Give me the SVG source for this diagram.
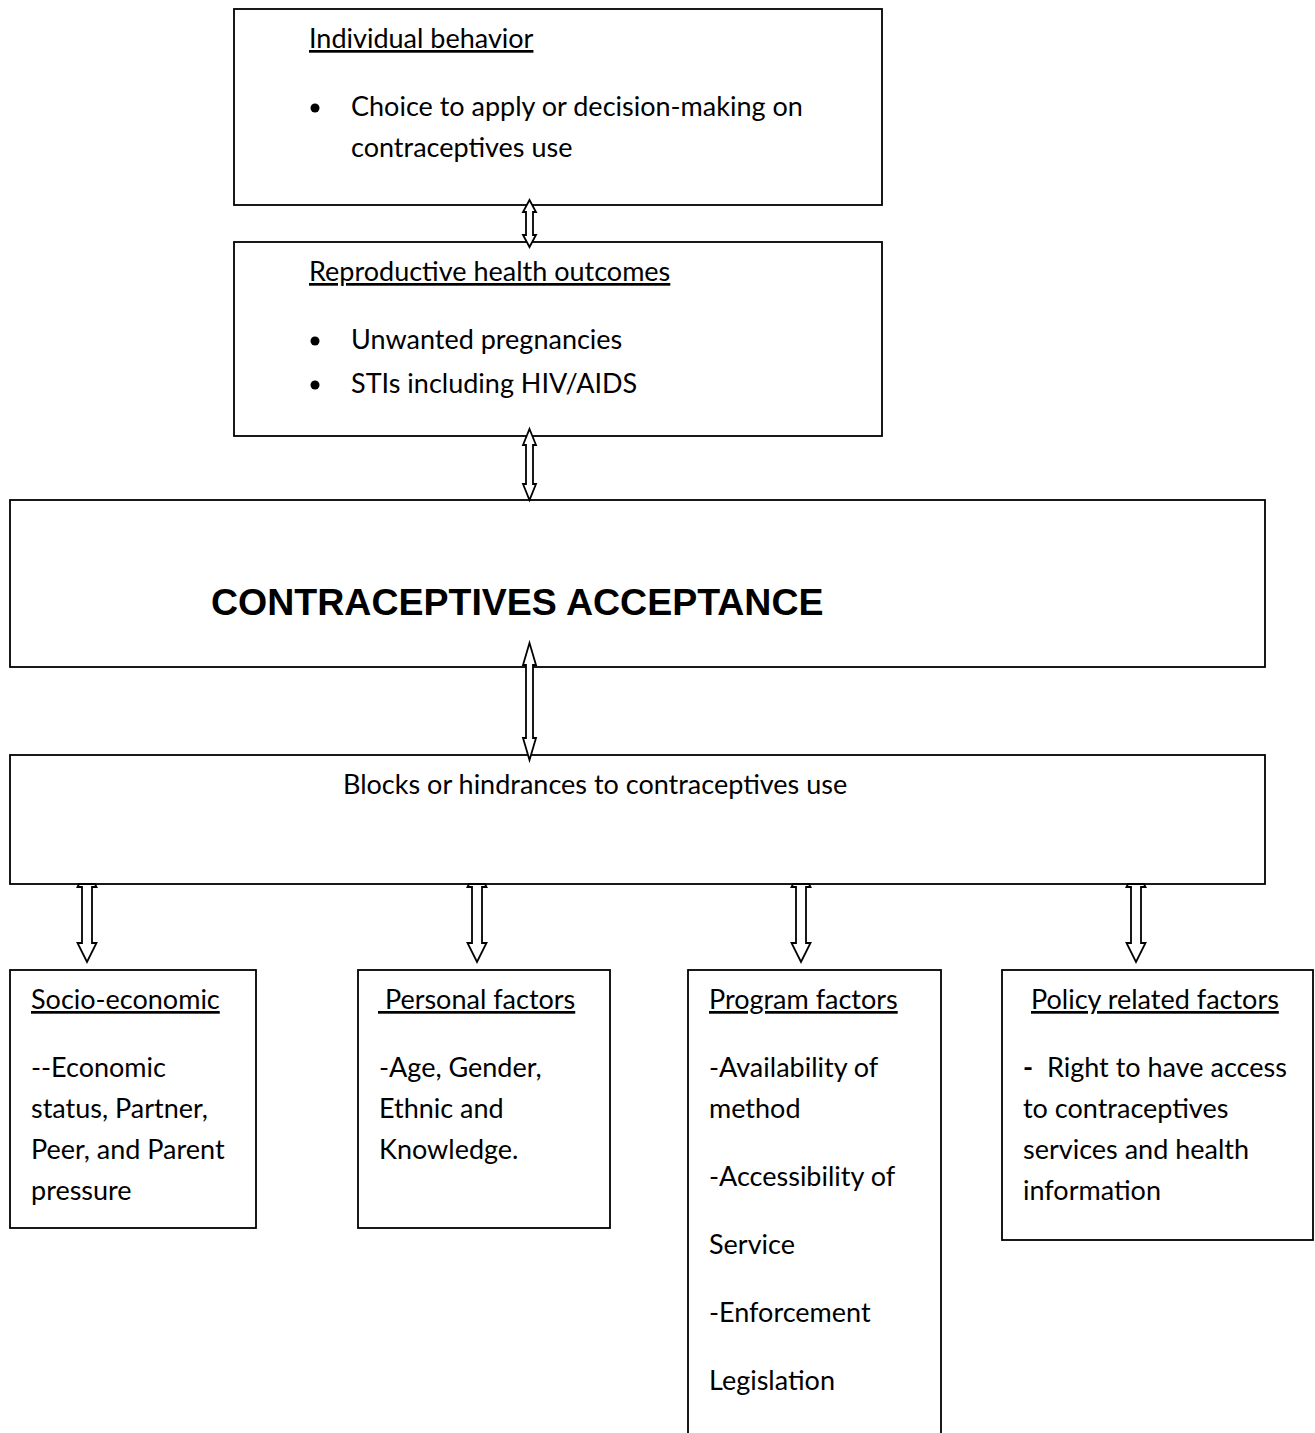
<svg xmlns="http://www.w3.org/2000/svg" width="1315" height="1433" viewBox="0 0 1315 1433">
<style>
.box{fill:#fff;stroke:#000;stroke-width:1.8}
.t{font-family:Lato,"Liberation Sans",sans-serif;font-size:27px;fill:#000;white-space:pre}
.u{text-decoration:underline}
.big{font-family:"Liberation Sans",Arial,sans-serif;font-size:37.5px;font-weight:bold;fill:#000}
.arr{fill:#fff;stroke:#000;stroke-width:1.8;stroke-linejoin:miter}
</style>
<rect width="1315" height="1433" fill="#fff"/>
<g id="individual-behavior">
<rect class="box" x="234" y="9" width="648" height="196"/>
<text class="t u" x="309" y="48">Individual behavior</text>
<circle cx="315" cy="108" r="4.5"/>
<text class="t" x="351" y="116">Choice to apply or decision-making on</text>
<text class="t" x="351" y="157">contraceptives use</text>
</g>
<g id="reproductive-health">
<rect class="box" x="234" y="242" width="648" height="194"/>
<text class="t u" x="309" y="281">Reproductive health outcomes</text>
<circle cx="315" cy="341" r="4.5"/>
<text class="t" x="351" y="349">Unwanted pregnancies</text>
<circle cx="315" cy="385" r="4.5"/>
<text class="t" x="351" y="393">STIs including HIV/AIDS</text>
</g>
<g id="contraceptives-acceptance">
<rect class="box" x="10" y="500" width="1255" height="167"/>
<text class="big" x="211" y="615">CONTRACEPTIVES ACCEPTANCE</text>
</g>
<g id="blocks">
<rect class="box" x="10" y="755" width="1255" height="129"/>
<text class="t" x="343" y="794">Blocks or hindrances to contraceptives use</text>
</g>
<g id="socio-economic">
<rect class="box" x="10" y="970" width="246" height="258"/>
<text class="t u" x="31" y="1009">Socio-economic</text>
<text class="t" x="31" y="1077">--Economic</text>
<text class="t" x="31" y="1118">status, Partner,</text>
<text class="t" x="31" y="1159">Peer, and Parent</text>
<text class="t" x="31" y="1200">pressure</text>
</g>
<g id="personal-factors">
<rect class="box" x="358" y="970" width="252" height="258"/>
<text class="t u" x="378" y="1009"> Personal factors</text>
<text class="t" x="379" y="1077">-Age, Gender,</text>
<text class="t" x="379" y="1118">Ethnic and</text>
<text class="t" x="379" y="1159">Knowledge.</text>
</g>
<g id="program-factors">
<rect class="box" x="688" y="970" width="253" height="480"/>
<text class="t u" x="709" y="1009">Program factors</text>
<text class="t" x="709" y="1077">-Availability of</text>
<text class="t" x="709" y="1118">method</text>
<text class="t" x="709" y="1186">-Accessibility of</text>
<text class="t" x="709" y="1254">Service</text>
<text class="t" x="709" y="1322">-Enforcement</text>
<text class="t" x="709" y="1390">Legislation</text>
</g>
<g id="policy-factors">
<rect class="box" x="1002" y="970" width="311" height="270"/>
<text class="t u" x="1031" y="1009">Policy related factors</text>
<text class="t" x="1023" y="1077"><tspan font-weight="bold">-</tspan><tspan x="1047">Right to have access</tspan></text>
<text class="t" x="1023" y="1118">to contraceptives</text>
<text class="t" x="1023" y="1159">services and health</text>
<text class="t" x="1023" y="1200">information</text>
</g>
<g id="connectors">
<polygon class="arr" points="529.5,200 536,212 533,212 533,235 536,235 529.5,247 523,235 526,235 526,212 523,212"/>
<polygon class="arr" points="529.5,429 536,445 533,445 533,484 536,484 529.5,500 523,484 526,484 526,445 523,445"/>
<polygon class="arr" points="529.5,643 536,665 533,665 533,738 536,738 529.5,760 523,738 526,738 526,665 523,665"/>
<polygon class="arr" points="79,884 95,884 96.5,887 92,887 92,943 96.5,943 87,962 77.5,943 82,943 82,887 77.5,887"/>
<polygon class="arr" points="469,884 485,884 486.5,887 482,887 482,943 486.5,943 477,962 467.5,943 472,943 472,887 467.5,887"/>
<polygon class="arr" points="793,884 809,884 810.5,887 806,887 806,943 810.5,943 801,962 791.5,943 796,943 796,887 791.5,887"/>
<polygon class="arr" points="1128,884 1144,884 1145.5,887 1141,887 1141,943 1145.5,943 1136,962 1126.5,943 1131,943 1131,887 1126.5,887"/>
</g>
</svg>
